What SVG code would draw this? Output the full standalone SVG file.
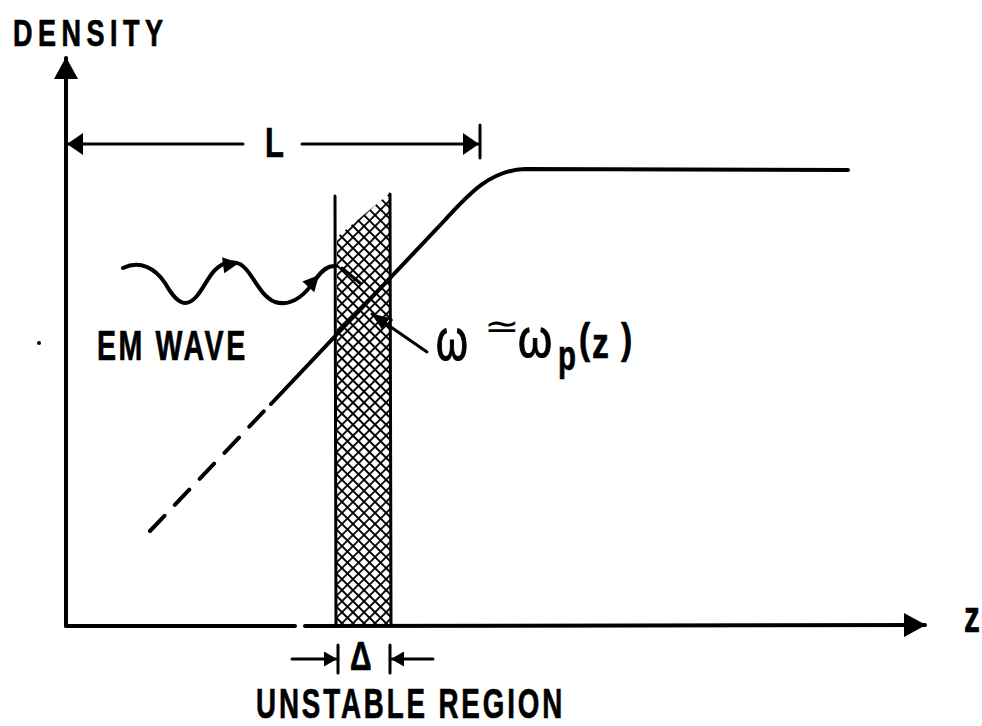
<svg xmlns="http://www.w3.org/2000/svg" width="982" height="726" viewBox="0 0 982 726">
<style>
.ln{fill:none;stroke:#000;stroke-width:4;stroke-linecap:round;stroke-linejoin:round}
.th{fill:none;stroke:#000;stroke-width:3;stroke-linecap:round}
.lbl{font-family:"Liberation Sans","DejaVu Sans",sans-serif;font-weight:bold;fill:#000;stroke:#000;stroke-width:0.7}
.gr{font-family:"Liberation Sans","DejaVu Sans",sans-serif;font-weight:normal;fill:#000;stroke:#000;stroke-width:1}
.sym{font-family:"DejaVu Sans","Liberation Sans",sans-serif;fill:#000}
</style>
<defs>
<marker id="big" markerUnits="userSpaceOnUse" markerWidth="22" markerHeight="24" viewBox="0 0 22 24" refX="21" refY="12" orient="auto"><path d="M0,0 L22,12 L0,24 Z" fill="#000"/></marker>
<marker id="mid" markerUnits="userSpaceOnUse" markerWidth="16" markerHeight="22" viewBox="0 0 16 22" refX="15" refY="11" orient="auto"><path d="M0,0 L16,11 L0,22 Z" fill="#000"/></marker>
<marker id="ptr" markerUnits="userSpaceOnUse" markerWidth="18" markerHeight="14" viewBox="0 0 18 14" refX="17" refY="7" orient="auto"><path d="M0,0 L18,7 L0,14 Z" fill="#000"/></marker>
<marker id="small" markerUnits="userSpaceOnUse" markerWidth="13" markerHeight="15" viewBox="0 0 13 15" refX="12" refY="7.5" orient="auto"><path d="M0,0 L13,7.5 L0,15 Z" fill="#000"/></marker>
<path id="wh" d="M0,0 L-16,-8 L-16,8 Z" fill="#000"/>
<pattern id="hatch" width="7.8" height="7.8" patternUnits="userSpaceOnUse" patternTransform="rotate(45)"><path d="M0,3.9H7.8M3.9,0V7.8" stroke="#000" stroke-width="1.8"/></pattern>
</defs>

<g id="axes">
<line class="ln" x1="66" y1="626" x2="66" y2="58" marker-end="url(#big)"/>
<line class="ln" x1="66" y1="626" x2="295" y2="626"/>
<line class="ln" x1="305" y1="626" x2="925" y2="625" marker-end="url(#big)"/>
<g transform="translate(13,46) scale(0.75,1)"><text class="lbl" x="0" y="0" font-size="36" textLength="200" lengthAdjust="spacing">DENSITY</text></g>
<g transform="translate(964,632) scale(0.72,1)"><text class="lbl" x="0" y="0" font-size="44">z</text></g>
</g>

<g id="unstable-band">
<polygon points="337,237 390,193 390,625 337,625" fill="url(#hatch)"/>
<line class="th" x1="335" y1="196" x2="336" y2="625" stroke-width="3.5"/>
<line class="th" x1="390" y1="194" x2="391" y2="625" stroke-width="4"/>
</g>

<g id="density-curve">
<path class="ln" d="M150,531 L268,407" stroke-dasharray="21 15"/>
<path class="ln" d="M271,404 L445,220 C468,195 490,170 525,169 L848,170"/>
</g>

<g id="em-wave">
<path class="ln" d="M123,268 C140,260 155,268 165,283 C172,295 178,303 185,303 C198,303 205,280 215,270 C222,263 230,260 240,264 C252,270 258,295 275,302 C292,307 305,295 315,280 C322,270 328,265 336,266"/>
<line class="th" x1="342" y1="268" x2="360" y2="283"/>
<use href="#wh" transform="translate(239,263) rotate(-8)"/>
<use href="#wh" transform="translate(319,275) rotate(-48)"/>
<g transform="translate(97,360) scale(0.68,1)"><text class="lbl" x="0" y="0" font-size="42" textLength="218" lengthAdjust="spacing">EM WAVE</text></g>
<circle cx="39" cy="343" r="2"/>
</g>

<g id="connectors">
<line class="th" x1="243" y1="144" x2="68" y2="144" marker-end="url(#mid)"/>
<line class="th" x1="302" y1="144" x2="478" y2="144" marker-end="url(#mid)"/>
<line class="th" x1="480" y1="125" x2="480" y2="158"/>
<line class="th" x1="292" y1="659" x2="336" y2="659" marker-end="url(#small)"/>
<line class="th" x1="338" y1="645" x2="338" y2="673"/>
<line class="th" x1="433" y1="659" x2="392" y2="659" marker-end="url(#small)"/>
<line class="th" x1="390" y1="645" x2="390" y2="673"/>
<line class="th" x1="427" y1="352" x2="372" y2="314" stroke-width="3.5" marker-end="url(#ptr)"/>
<circle cx="391" cy="320" r="1.8"/>
</g>

<g id="label-L">
<g transform="translate(265,157) scale(0.72,1)"><text class="lbl" x="0" y="0" font-size="43">L</text></g>
</g>

<g id="label-omega">
<g transform="translate(436,360) scale(0.85,1.2)"><text class="gr" x="0" y="0" font-size="48">ω</text></g>
<g transform="translate(484,338) scale(1.25,1)"><text class="sym" x="0" y="0" font-size="34">≃</text></g>
<g transform="translate(518,357) scale(0.95,1.15)"><text class="gr" x="0" y="0" font-size="46">ω</text></g>
<g transform="translate(558,370) scale(0.7,1)"><text class="lbl" x="0" y="0" font-size="42">p</text></g>
<g transform="translate(579,353) scale(0.8,1)"><text class="lbl" x="0" y="0" font-size="42">(</text></g>
<g transform="translate(592,358) scale(0.8,1)"><text class="lbl" x="0" y="0" font-size="42">z</text></g>
<g transform="translate(621,353) scale(0.8,1)"><text class="lbl" x="0" y="0" font-size="42">)</text></g>
</g>

<g id="label-delta">
<g transform="translate(350,670) scale(0.75,1)"><text class="lbl" x="0" y="0" font-size="40">Δ</text></g>
<g transform="translate(256,718) scale(0.66,1)"><text class="lbl" x="0" y="0" font-size="42" textLength="464" lengthAdjust="spacing">UNSTABLE REGION</text></g>
</g>
</svg>
